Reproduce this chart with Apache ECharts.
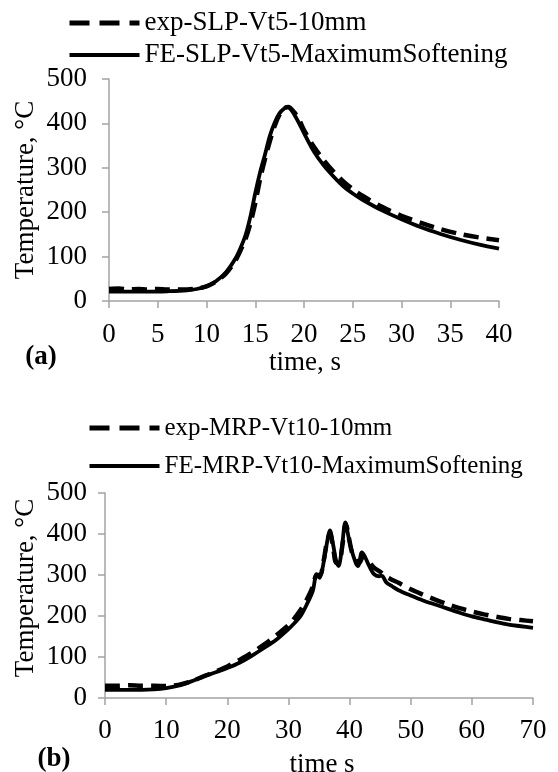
<!DOCTYPE html>
<html>
<head>
<meta charset="utf-8">
<script src="https://cdn.jsdelivr.net/npm/echarts@6/dist/echarts.min.js"></script>
<style>html,body{margin:0;padding:0;background:#fff}#c{width:558px;height:772px}</style>
</head>
<body>
<div id="c"></div>
<script>
// ---- Data (a) ----
const aExpName = 'exp-SLP-Vt5-10mm';
const aFeName = 'FE-SLP-Vt5-MaximumSoftening';
const aExpT = [0,1,2,3,4,5,6,7,8,9,10,11,12,13,14,14.5,15,15.5,16,16.5,17,17.5,18,18.4,19,19.5,20,21,22,23,24,25,26,28,30,32,34,36,38,40];
const aExpV = [27,28,26,27,26,27,26,26,26,28,33,44,62,92,140,175,220,275,320,360,395,420,434,437,425,408,385,348,318,292,270,252,237,212,192,176,162,151,143,137];
const aFeT = [0,2,4,6,8,9,10,11,12,13,13.5,14,14.5,15,15.5,16,16.5,17,17.5,18,18.3,18.7,19,19.5,20,21,22,23,24,25,26,28,30,32,34,36,38,40];
const aFeV = [21,21,21,22,24,27,33,45,65,97,120,148,190,243,290,330,372,402,423,434,437,430,420,400,378,337,306,281,259,242,228,204,184,166,151,138,127,118];
// ---- Data (b) ----
const bExpName = 'exp-MRP-Vt10-10mm';
const bFeName = 'FE-MRP-Vt10-MaximumSoftening';
const bExpT = [0,2,4,6,8,10,12,14,16,18,20,22,24,26,28,30,31,32,33,34,34.6,35.2,35.7,36.3,36.8,37.3,37.8,38.3,38.8,39.4,39.9,40.4,41.1,41.6,42.2,43,44,45,46,47,48,50,52,54,56,58,60,62,64,66,68,70];
const bExpV = [30,30,31,30,30,29,32,40,52,64,77,93,110,130,153,178,195,215,240,272,300,300,330,380,400,368,330,330,370,425,390,355,335,330,345,335,318,308,296,288,281,265,252,240,229,219,211,204,198,193,190,187];
const bFeT = [0,3,6,8,10,12,14,16,18,20,22,24,26,28,30,31,32,33,34,34.6,35.1,35.6,36.2,36.8,37.3,37.8,38.2,38.7,39.3,39.8,40.3,41,41.4,42,42.5,43.2,44,44.8,45.3,46,47,48,50,52,54,56,58,60,62,64,66,68,70];
const bFeV = [20,20,20,21,24,30,40,52,62,73,86,103,122,142,168,183,200,228,262,302,293,318,370,409,375,335,322,360,428,395,362,330,322,355,345,322,302,297,298,282,272,263,250,238,228,218,208,199,192,185,179,175,171];
// ---- Axis ticks ----
const yTicks = {min:0, max:500, interval:100};
const aXTicks = {min:0, max:40, interval:5};
const bXTicks = {min:0, max:70, interval:10};
const yTitle = 'Temperature, \u00B0C';
const aXTitle = 'time, s';
const bXTitle = 'time s';

const pairs = (t, v) => t.map((x, i) => [x, v[i]]);
const FONT = 'Liberation Serif, Times New Roman, serif';
const axisGray = '#a3a3a3';

function xAxis(idx, ticks, margin) {
  return {type:'value', gridIndex:idx, min:ticks.min, max:ticks.max, interval:ticks.interval,
    axisLine:{lineStyle:{color:axisGray, width:1.5}},
    axisTick:{show:true, length:7, lineStyle:{color:axisGray, width:1.5}},
    splitLine:{show:false},
    axisLabel:{color:'#000', fontFamily:FONT, fontSize:27, margin:margin}};
}
function yAxis(idx, margin) {
  return {type:'value', gridIndex:idx, min:yTicks.min, max:yTicks.max, interval:yTicks.interval,
    axisLine:{show:true, lineStyle:{color:axisGray, width:1.5}},
    axisTick:{show:true, length:7, lineStyle:{color:axisGray, width:1.5}},
    splitLine:{show:false},
    axisLabel:{color:'#000', fontFamily:FONT, fontSize:27, margin:margin}};
}
function line(name, idx, data, dashed) {
  return {type:'line', name:name, xAxisIndex:idx, yAxisIndex:idx, data:data,
    showSymbol:false, symbol:'none', smooth:0.3, clip:false,
    lineStyle:{color:'#000', width:dashed ? 4.5 : 3.8, type: dashed ? [15, 8] : 'solid'},
    itemStyle:{color:'#000'}, z: dashed ? 2 : 3};
}
function legend(left, top, gap, fontSize, names) {
  return {left:left, top:top, orient:'vertical', itemGap:gap, itemWidth:70, itemHeight:4,
    textStyle:{fontFamily:FONT, fontSize:fontSize, color:'#000', lineHeight:30},
    data:[
      {name:names[0], lineStyle:{type:[20, 10], width:5}},
      {name:names[1], lineStyle:{type:'solid', width:4}}
    ]};
}

const chart = echarts.init(document.getElementById('c'));
chart.setOption({
  animation:false,
  backgroundColor:'#fff',
  grid:[
    {left:109, top:79, width:390, height:222},
    {left:105, top:493, width:428, height:205}
  ],
  xAxis:[xAxis(0, aXTicks, 20), xAxis(1, bXTicks, 19)],
  yAxis:[yAxis(0, 22), yAxis(1, 18)],
  legend:[
    legend(62, 3, 2, 27, [aExpName, aFeName]),
    legend(82, 408, 8, 25, [bExpName, bFeName])
  ],
  series:[
    line(aExpName, 0, pairs(aExpT, aExpV), true),
    line(aFeName, 0, pairs(aFeT, aFeV), false),
    line(bExpName, 1, pairs(bExpT, bExpV), true),
    line(bFeName, 1, pairs(bFeT, bFeV), false)
  ],
  graphic:[
    {type:'text', x:26, y:190, rotation:Math.PI/2, style:{text:yTitle, font:'27px ' + FONT, fill:'#000', align:'center', verticalAlign:'middle'}},
    {type:'text', x:26, y:588, rotation:Math.PI/2, style:{text:yTitle, font:'27px ' + FONT, fill:'#000', align:'center', verticalAlign:'middle'}},
    {type:'text', x:305, y:363, style:{text:aXTitle, font:'27px ' + FONT, fill:'#000', align:'center', verticalAlign:'middle'}},
    {type:'text', x:322, y:765, style:{text:bXTitle, font:'27px ' + FONT, fill:'#000', align:'center', verticalAlign:'middle'}},
    {type:'text', x:41, y:357, style:{text:'(a)', font:'bold 27px ' + FONT, fill:'#000', align:'center', verticalAlign:'middle'}},
    {type:'text', x:54, y:759, style:{text:'(b)', font:'bold 27px ' + FONT, fill:'#000', align:'center', verticalAlign:'middle'}}
  ]
});
</script>
</body>
</html>
